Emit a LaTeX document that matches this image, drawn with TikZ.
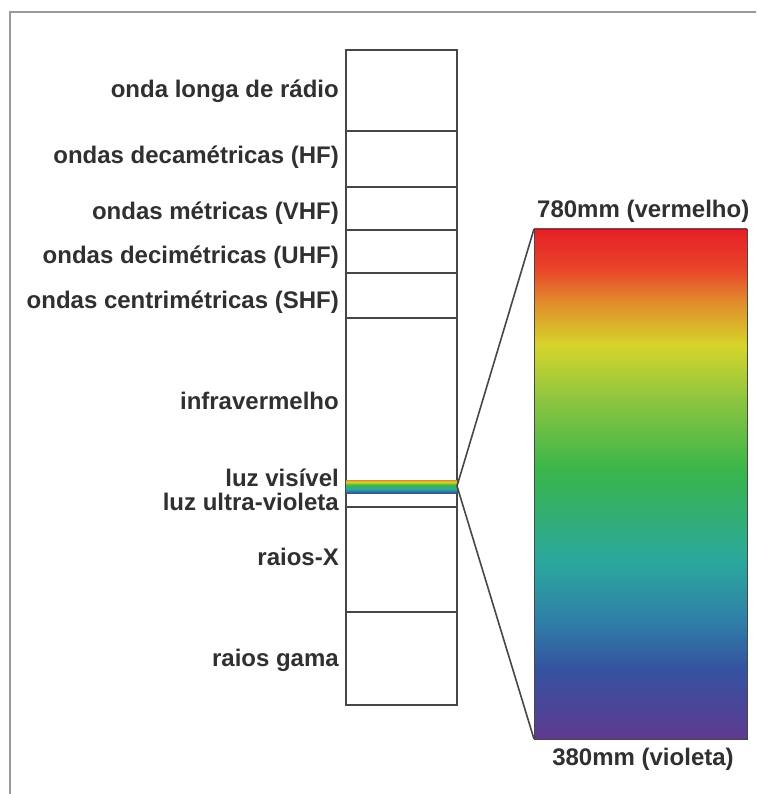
\documentclass[tikz,border=0pt]{standalone}
\usepackage{fontspec}
\setmainfont{Liberation Sans}

\definecolor{moldura}{HTML}{9A9A9A}
\definecolor{traco}{HTML}{474747}
\definecolor{texto}{HTML}{303030}

\definecolor{vermelho}{HTML}{E61F26}
\definecolor{laranjaverm}{HTML}{E8462A}
\definecolor{laranja}{HTML}{E2892B}
\definecolor{amarelo}{HTML}{D6D52B}
\definecolor{verdeamarelo}{HTML}{8CC540}
\definecolor{verde}{HTML}{3AB54A}
\definecolor{teal}{HTML}{2BA89D}
\definecolor{azulteal}{HTML}{2F80A8}
\definecolor{azul}{HTML}{3552A0}
\definecolor{violeta}{HTML}{5E3A90}

\pgfdeclareverticalshading{espectro}{100bp}{color(0bp)=(violeta); color(25bp)=(violeta); color(31.8bp)=(azul); color(36.7bp)=(azulteal); color(42.5bp)=(teal); color(51.4bp)=(verde); color(58.2bp)=(verdeamarelo); color(63.6bp)=(amarelo); color(68bp)=(laranja); color(71bp)=(laranjaverm); color(75bp)=(vermelho); color(100bp)=(vermelho)}

% faixa estreita na barra: de amarelo-alaranjado ate azul escuro
\pgfdeclareverticalshading{faixavis}{100bp}{color(0bp)=(azul); color(25bp)=(azul); color(40bp)=(teal); color(55bp)=(verde); color(68bp)=(amarelo); color(75bp)=(laranja); color(100bp)=(laranja)}

\tikzset{
  rotulo/.style={anchor=base east, inner sep=0pt, text=texto,
    font=\bfseries\fontsize{24}{24}\selectfont},
  barra/.style={traco, line width=1.6pt}
}

\begin{document}
\begin{tikzpicture}[x=1pt, y=-1pt]

  \path[use as bounding box, clip] (0,0) rectangle (756,794);
  \fill[white] (0,0) rectangle (756,794);

  \draw[moldura, line width=2pt] (10,800) -- (10,12) -- (760,12);

  % barra das ondas
  \draw[barra] (346,50) rectangle (457,705);
  \foreach \y in {131,187,230,273,318,507,612}
    \draw[barra] (346,\y) -- (457,\y);

  % faixa da luz visivel
  \shade[shading=faixavis] (346,480) rectangle (457,493);
  \coordinate (faixa) at (457,486);

  \node[rotulo] (radio) at (339,98) {onda longa de rádio};
  \node[rotulo] (hf) at (339,164) {ondas decamétricas (HF)};
  \node[rotulo] (vhf) at (339,220) {ondas métricas (VHF)};
  \node[rotulo] (uhf) at (339,263) {ondas decimétricas (UHF)};
  \node[rotulo] (shf) at (339,308) {ondas centrimétricas (SHF)};
  \node[rotulo] (infra) at (339,409) {infravermelho};
  \node[rotulo] (visivel) at (339,486) {luz visível};
  \node[rotulo] (uv) at (339,510) {luz ultra-violeta};
  \node[rotulo] (raiosx) at (339,565) {raios-X};
  \node[rotulo] (gama) at (339,666) {raios gama};

  % espectro visivel ampliado
  \node[shade, shading=espectro, draw=traco, line width=0.6pt, inner sep=0pt,
    outer sep=0pt, minimum width=213pt, minimum height=510pt,
    anchor=north west] (espectro) at (534,229) {};

  \draw[barra] (faixa) -- (espectro.north west);
  \draw[barra] (faixa) -- (espectro.south west);

  \node[rotulo, anchor=base west] (vermelho) at (537,218) {780mm (vermelho)};
  \node[rotulo, anchor=base] (violeta) at (643,765) {380mm (violeta)};

\end{tikzpicture}
\end{document}
